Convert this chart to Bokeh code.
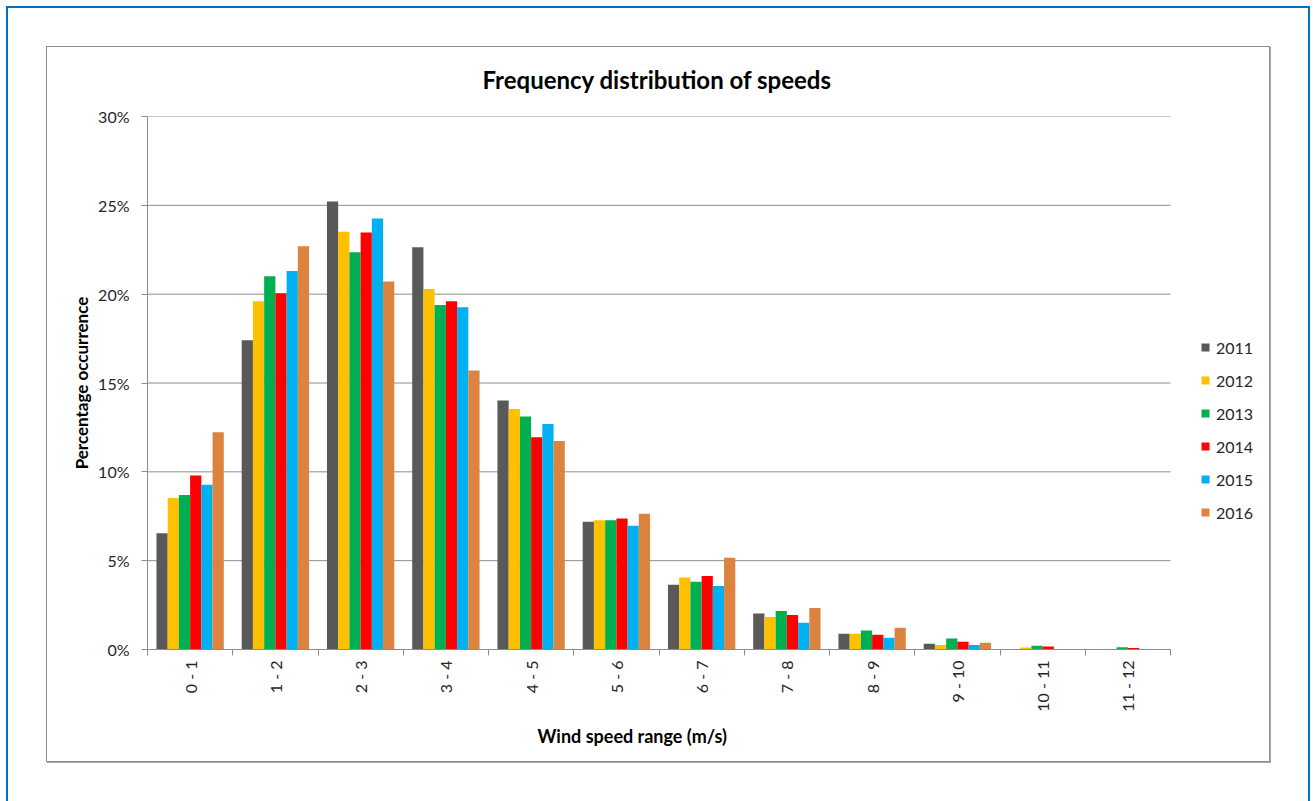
import math
from bokeh.plotting import figure
from bokeh.models import (Range1d, FixedTicker, PrintfTickFormatter, Legend, LegendItem,
                          Title, InlineStyleSheet)
from bokeh.embed import file_html
from bokeh.resources import INLINE

# Wind speed bins (m/s)
ranges = ["0 - 1", "1 - 2", "2 - 3", "3 - 4", "4 - 5", "5 - 6",
          "6 - 7", "7 - 8", "8 - 9", "9 - 10", "10 - 11", "11 - 12"]

years = ["2011", "2012", "2013", "2014", "2015", "2016"]

# Percentage occurrence per bin, one list per year
y2011 = [6.54, 17.40, 25.22, 22.64, 14.01, 7.19, 3.64, 2.02, 0.88, 0.32, 0.00, 0.00]
y2012 = [8.53, 19.60, 23.51, 20.29, 13.54, 7.28, 4.05, 1.83, 0.88, 0.26, 0.11, 0.00]
y2013 = [8.70, 21.01, 22.36, 19.39, 13.12, 7.28, 3.81, 2.17, 1.07, 0.62, 0.21, 0.13]
y2014 = [9.79, 20.05, 23.47, 19.60, 11.94, 7.37, 4.13, 1.94, 0.83, 0.43, 0.17, 0.08]
y2015 = [9.28, 21.31, 24.26, 19.26, 12.69, 6.96, 3.57, 1.51, 0.66, 0.26, 0.00, 0.00]
y2016 = [12.23, 22.70, 20.71, 15.71, 11.74, 7.64, 5.16, 2.34, 1.22, 0.38, 0.00, 0.00]

y_ticks = [0, 5, 10, 15, 20, 25, 30]

series = [y2011, y2012, y2013, y2014, y2015, y2016]
colors = ["#595959", "#FFC000", "#00B050", "#FF0000", "#00B0F0", "#DC843F"]

FONT = "Lato"
GRID = "#8C8C8C"
TXT = "#262626"

# chart-area frame and the page border drawn around the canvas
frame_css = InlineStyleSheet(css="""
:host { position: relative; }
:host::before {
  content: ""; position: absolute; z-index: 5; pointer-events: none;
  left: 6px; top: 6px; right: 3px; bottom: 0px;
  border: 2px solid #0070C0; border-bottom: none;
}
:host::after {
  content: ""; position: absolute; z-index: 5; pointer-events: none;
  left: 46px; top: 46px; width: 1222px; height: 714px;
  border: 1px solid #8E8E8E;
  box-shadow: 1px 1px 0px #A8A8A8;
}
""")

n = len(ranges)
# the frame runs on past the last bin to leave room for the legend
x_end = n * 1121 / 1023
p = figure(width=1313, height=801, output_backend="svg", toolbar_location=None,
           x_range=Range1d(0, x_end), y_range=Range1d(0, 30),
           min_border_left=147, min_border_right=45,
           min_border_top=116, min_border_bottom=152)
p.outline_line_color = None
p.background_fill_color = "white"
p.border_fill_color = "white"
p.stylesheets = [frame_css]

# horizontal gridlines spanning the bins only
p.segment(x0=0, x1=n, y0=y_ticks, y1=y_ticks, line_color=GRID, line_width=1)

bar_w = 0.79 / len(years)
centers = [i + 0.5 for i in range(n)]
items = []
for j, (yr, vals, col) in enumerate(zip(years, series, colors)):
    xs = [c + (j - (len(years) - 1) / 2) * bar_w for c in centers]
    r = p.vbar(x=xs, top=vals, width=bar_w, bottom=0, fill_color=col, line_color=None)
    items.append(LegendItem(label=yr, renderers=[r]))

# x axis: labels at bin centres, tick marks at bin boundaries
xa = p.xaxis[0]
xa.bounds = (0, n)
xa.ticker = FixedTicker(ticks=centers, minor_ticks=list(range(n + 1)))
xa.major_label_overrides = {c: lab for c, lab in zip(centers, ranges)}
xa.major_label_orientation = math.pi / 2
xa.major_tick_out = 0
xa.major_tick_in = 0
xa.minor_tick_out = 6
xa.minor_tick_in = 0
xa.minor_tick_line_color = GRID
xa.axis_line_color = GRID
xa.major_label_text_font = FONT
xa.major_label_text_font_size = "16px"
xa.major_label_text_color = TXT
xa.major_label_standoff = 5

ya = p.yaxis[0]
ya.ticker = FixedTicker(ticks=y_ticks)
ya.formatter = PrintfTickFormatter(format="%d%%")
ya.minor_tick_line_color = None
ya.major_tick_out = 6
ya.major_tick_in = 0
ya.major_tick_line_color = GRID
ya.axis_line_color = GRID
ya.major_label_text_font = FONT
ya.major_label_text_font_size = "16px"
ya.major_label_text_color = TXT
ya.major_label_standoff = 12
ya.axis_label = "Percentage occurrence"
ya.axis_label_text_font = FONT
ya.axis_label_text_font_size = "17px"
ya.axis_label_text_font_style = "bold"
ya.axis_label_text_color = "black"
ya.axis_label_standoff = 3

p.xgrid.grid_line_color = None
p.ygrid.grid_line_color = None

p.title = Title(text="Frequency distribution of speeds", align="left", offset=335,
                text_font=FONT, text_font_size="24px", text_font_style="bold",
                text_color="black", standoff=46)

xlabel = Title(text="Wind speed range (m/s)", align="left", offset=390,
               text_font=FONT, text_font_size="18px", text_font_style="bold",
               text_color="black", standoff=17)
p.add_layout(xlabel, "below")

legend = Legend(items=items, location=(1053, 127), orientation="vertical",
                glyph_width=10, glyph_height=10, label_height=20, spacing=13,
                label_standoff=6, padding=0, margin=0,
                border_line_color=None, background_fill_alpha=0,
                label_text_font=FONT, label_text_font_size="16px",
                label_text_color=TXT)
p.add_layout(legend)

open("out.html", "w").write(file_html(p, INLINE))
